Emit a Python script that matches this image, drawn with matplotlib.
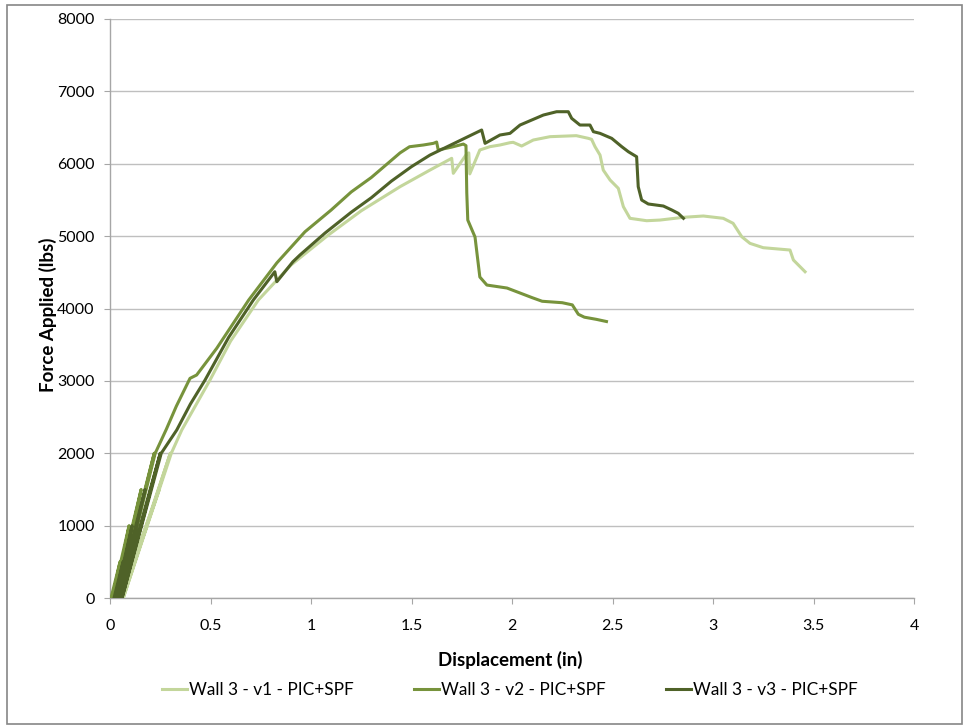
import matplotlib
matplotlib.use("Agg")
import matplotlib.pyplot as plt
from matplotlib.patches import Rectangle

plt.rcParams['font.family'] = ['Lato', 'DejaVu Sans']

labels = ["Wall 3 - v1 - PIC+SPF", "Wall 3 - v2 - PIC+SPF", "Wall 3 - v3 - PIC+SPF"]
colors = ["#C3D69B", "#77933C", "#4F6228"]

v1_disp = [0.03, 0.11, 0.04, 0.185, 0.05, 0.245, 0.06, 0.30, 0.066, 0.305, 0.357,
           0.4975, 0.60, 0.738, 0.90, 1.086, 1.25, 1.443, 1.592, 1.70, 1.708, 1.773, 1.785,
           1.79, 1.84, 1.89, 1.94, 1.99, 2.006, 2.048, 2.106, 2.189, 2.32, 2.38, 2.396,
           2.413, 2.438, 2.454, 2.488, 2.529, 2.554, 2.587, 2.67, 2.736, 2.853, 2.952,
           3.051, 3.10, 3.143, 3.184, 3.25, 3.383, 3.40, 3.458]
v1_force = [0, 500, 0, 1000, 0, 1500, 0, 2000, 0, 2000, 2321,
            3012, 3550, 4117, 4600, 5015, 5350, 5683, 5913, 6075, 5868, 6130, 6150,
            5860, 6190, 6236, 6259, 6291, 6296, 6245, 6328, 6374, 6388, 6351, 6337,
            6236, 6120, 5913, 5775, 5660, 5407, 5246, 5213, 5222, 5260, 5278,
            5246, 5177, 4992, 4900, 4840, 4808, 4670, 4508]

v2_disp = [0.005, 0.05, 0.012, 0.095, 0.025, 0.155, 0.035, 0.22, 0.045, 0.225, 0.28,
           0.33, 0.398, 0.431, 0.531, 0.69, 0.83, 0.97, 1.10, 1.20, 1.30, 1.443, 1.49,
           1.559, 1.609, 1.625, 1.633, 1.70, 1.758, 1.771, 1.775, 1.78, 1.816, 1.84,
           1.875, 1.975, 2.04, 2.10, 2.15, 2.25, 2.30, 2.33, 2.36, 2.42, 2.47]
v2_force = [0, 500, 0, 1000, 0, 1500, 0, 2000, 0, 2000, 2330,
            2650, 3035, 3081, 3450, 4117, 4630, 5060, 5360, 5610, 5810, 6150, 6235,
            6259, 6282, 6300, 6190, 6230, 6272, 6250, 5600, 5222, 4988, 4435,
            4324, 4283, 4214, 4150, 4100, 4080, 4050, 3920, 3880, 3850, 3820]

v3_disp = [0.02, 0.065, 0.027, 0.11, 0.035, 0.175, 0.05, 0.25, 0.06, 0.255, 0.332,
           0.40, 0.473, 0.59, 0.713, 0.82, 0.83, 0.91, 0.945, 1.07, 1.20, 1.30, 1.40,
           1.50, 1.592, 1.849, 1.866, 1.94, 1.99, 2.04, 2.156, 2.222, 2.28, 2.297,
           2.338, 2.388, 2.405, 2.438, 2.496, 2.546, 2.579, 2.62, 2.628, 2.645, 2.678,
           2.753, 2.795, 2.827, 2.853]
v3_force = [0, 500, 0, 1000, 0, 1500, 0, 2000, 0, 2000, 2321,
            2680, 3012, 3600, 4117, 4508, 4370, 4646, 4739, 5043, 5330, 5530, 5760,
            5960, 6120, 6466, 6282, 6397, 6420, 6535, 6673, 6719, 6719, 6627,
            6535, 6535, 6443, 6420, 6351, 6236, 6166, 6097, 5683, 5499, 5444,
            5416, 5361, 5315, 5246]

x_ticks = [0, 0.5, 1, 1.5, 2, 2.5, 3, 3.5, 4]
x_tick_labels = ["0", "0.5", "1", "1.5", "2", "2.5", "3", "3.5", "4"]
y_ticks = [0, 1000, 2000, 3000, 4000, 5000, 6000, 7000, 8000]

W, H = 966, 725
fig = plt.figure(figsize=(W / 100, H / 100), dpi=100)
ax = fig.add_axes([110 / W, 1 - 598 / H, (914 - 110) / W, (598 - 19) / H])

for d, f, c, lab in zip([v1_disp, v2_disp, v3_disp], [v1_force, v2_force, v3_force], colors, labels):
    ax.plot(d, f, color=c, lw=2.2, label=lab, solid_joinstyle='round', zorder=3)

ax.set_xlim(0, 4)
ax.set_ylim(0, 8000)
ax.set_xticks(x_ticks)
ax.set_xticklabels(x_tick_labels)
ax.set_yticks(y_ticks)
ax.yaxis.grid(True, color="#BFBFBF", lw=1)
ax.set_axisbelow(True)
for s in ["top", "right"]:
    ax.spines[s].set_visible(False)
for s in ["left", "bottom"]:
    ax.spines[s].set_color("#A6A6A6")
    ax.spines[s].set_linewidth(1)
ax.tick_params(axis="x", direction="out", length=4.5, color="#A6A6A6", labelsize=11.5, pad=10.5)
ax.tick_params(axis="y", direction="out", length=4.5, color="#A6A6A6", labelsize=11.5, pad=6.5)
ax.set_xlabel("Displacement (in)", fontsize=13.5, fontweight="bold")
ax.set_ylabel("Force Applied (lbs)", fontsize=13.5, fontweight="bold")
ax.xaxis.set_label_coords(0.4975, -0.092)
ax.yaxis.set_label_coords(-0.066, 0.489)

fig.legend(loc="center", bbox_to_anchor=(0.528, 1 - 690 / H), ncol=3, frameon=False,
           fontsize=12.4, handlelength=1.45, handletextpad=0.12, columnspacing=3.5)

fig.patches.append(Rectangle((7 / W, 1 / H), (962 - 7) / W, (720 - 1) / H, transform=fig.transFigure,
                             fill=False, edgecolor="#868686", lw=1.2))

fig.savefig("out.png", dpi=100)
